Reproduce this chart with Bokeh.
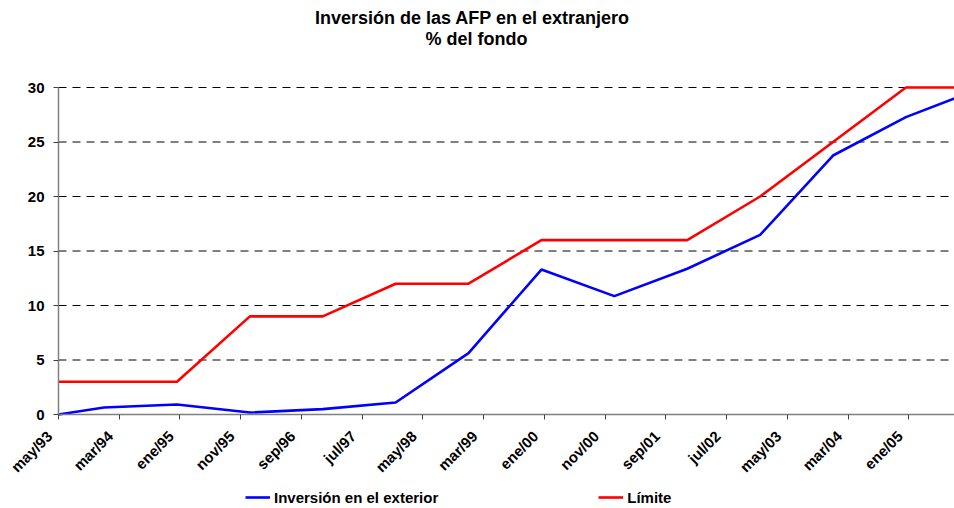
from math import pi
from bokeh.plotting import figure
from bokeh.models import (Range1d, FixedTicker, Legend, LegendItem, Label,
                          ColumnDataSource)
from bokeh.core.properties import value
from bokeh.embed import file_html
from bokeh.resources import INLINE

# ---- data -------------------------------------------------------------
dates = ["1993-05", "1993-12", "1994-12", "1995-12", "1996-12", "1997-12",
         "1998-12", "1999-12", "2000-12", "2001-12", "2002-12", "2003-12",
         "2004-12", "2005-08"]
inversion = [0.0, 0.64, 0.92, 0.18, 0.49, 1.1, 5.63, 13.3, 10.86, 13.37,
             16.48, 23.76, 27.28, 29.0]
limite = [3, 3, 3, 9, 9, 12, 12, 16, 16, 16, 20, 25, 30, 30]
tick_labels = ["may/93", "mar/94", "ene/95", "nov/95", "sep/96", "jul/97",
               "may/98", "mar/99", "ene/00", "nov/00", "sep/01", "jul/02",
               "may/03", "mar/04", "ene/05"]
y_ticks = [0, 5, 10, 15, 20, 25, 30]

# month index counted from may/93, placed at mid-month
def month_index(s):
    y, m = s.split("-")
    return (int(y) - 1993) * 12 + (int(m) - 5) + 0.5

xs = [month_index(d) for d in dates]
xs[0] = 0.0
tick_pos = [i * 10 for i in range(len(tick_labels))]

src = ColumnDataSource(dict(x=xs, inv=inversion, lim=limite))
tick_src = ColumnDataSource(dict(x=tick_pos, y=[0] * len(tick_pos), t=tick_labels))

FONT = "Liberation Sans"

# layout (pixels): the frame covers the whole canvas, axes are fixed at 0
W, H = 954, 508
LEFT_PAD, TOP_PAD, BOTTOM_PAD = 58, 87, 94
ppu = (H - TOP_PAD - BOTTOM_PAD) / 30.0
ppx = (W - LEFT_PAD) / xs[-1]
x0 = -LEFT_PAD / ppx
y0 = -BOTTOM_PAD / ppu
y1 = 30 + TOP_PAD / ppu

p = figure(width=W, height=H, output_backend="svg", toolbar_location=None,
           x_range=Range1d(x0, xs[-1]), y_range=Range1d(y0, y1),
           min_border_left=0, min_border_right=0, min_border_top=0,
           min_border_bottom=0)
p.outline_line_color = None
p.background_fill_color = "white"
p.border_fill_color = "white"

# dashed horizontal gridlines between the axes
p.segment(x0=0, x1=xs[-1], y0=y_ticks, y1=y_ticks, line_color="black",
          line_width=1, line_dash="8 6", level="underlay")

r_inv = p.line("x", "inv", source=src, line_color="#0000FF", line_width=2.6)
r_lim = p.line("x", "lim", source=src, line_color="#FF0000", line_width=2.6)

# axes
p.xaxis.fixed_location = 0
p.yaxis.fixed_location = 0
p.xaxis.ticker = FixedTicker(ticks=tick_pos)
p.xaxis.major_label_text_font_size = "0px"
p.xaxis.major_label_text_alpha = 0
p.xaxis.bounds = (0, xs[-1])
p.yaxis.ticker = FixedTicker(ticks=y_ticks)
p.yaxis.bounds = (0, 30)
for ax in (p.xaxis, p.yaxis):
    ax.axis_line_color = "#808080"
    ax.axis_line_width = 1.5
    ax.major_tick_line_color = "#404040"
    ax.major_tick_out = 5
    ax.major_tick_in = 0
    ax.minor_tick_line_color = None
    ax.major_label_text_font = FONT
    ax.major_label_text_font_style = "bold"
    ax.major_label_text_color = "black"
p.yaxis.major_label_text_font_size = "15px"
p.yaxis.major_label_standoff = 9

# rotated category labels under the ticks
p.text(x="x", y="y", text="t", source=tick_src, angle=pi / 4,
       text_align="right", text_baseline="middle", x_offset=-9, y_offset=19,
       text_font=value(FONT), text_font_style="bold", text_font_size="15px",
       text_color="black")

p.xgrid.grid_line_color = None
p.ygrid.grid_line_color = None

# title (two lines)
t1 = Label(x=472, y=H - 17, x_units="screen", y_units="screen",
           text="Inversión de las AFP en el extranjero", text_align="center",
           text_baseline="middle", text_font=FONT, text_font_style="bold",
           text_font_size="18px", text_color="black")
t2 = Label(x=476, y=H - 38, x_units="screen", y_units="screen",
           text="% del fondo", text_align="center",
           text_baseline="middle", text_font=FONT, text_font_style="bold",
           text_font_size="18px", text_color="black")
p.add_layout(t1)
p.add_layout(t2)

legend = Legend(items=[LegendItem(label="Inversión en el exterior", renderers=[r_inv]),
                       LegendItem(label="Límite", renderers=[r_lim])],
                orientation="horizontal", location=(245, 1),
                glyph_width=25, glyph_height=20, label_height=20,
                label_standoff=4, spacing=160, padding=0, margin=0,
                border_line_color=None, background_fill_alpha=0,
                label_text_font=FONT, label_text_font_style="bold",
                label_text_font_size="15px", label_text_color="black")
p.add_layout(legend, "center")

open("out.html", "w").write(file_html(p, INLINE))
